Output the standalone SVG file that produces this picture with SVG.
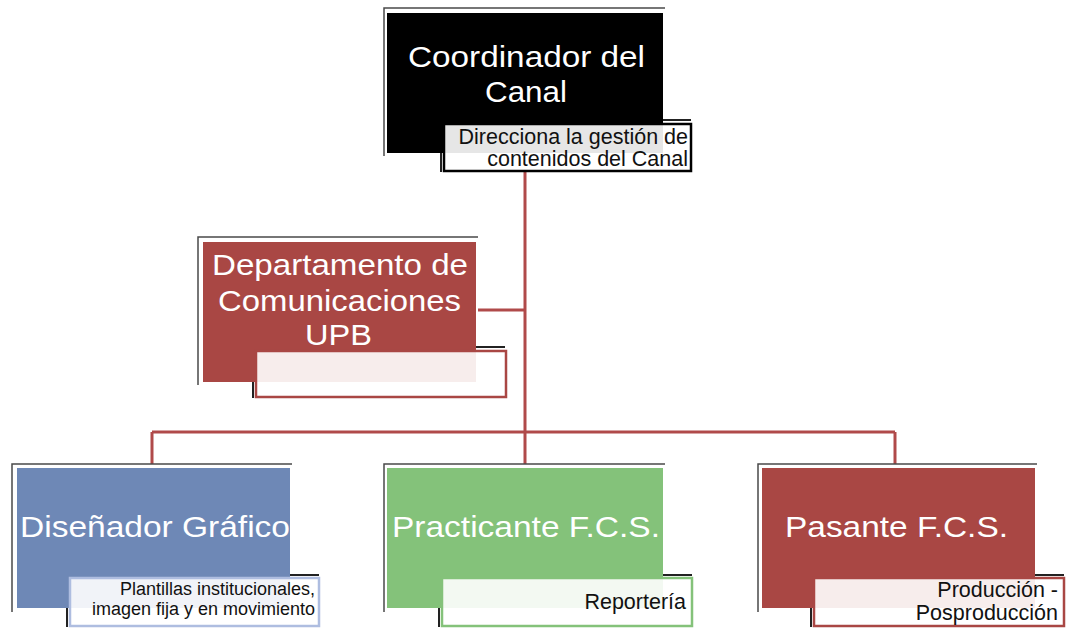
<svg xmlns="http://www.w3.org/2000/svg" width="1068" height="628" viewBox="0 0 1068 628">
<style>
.frame{fill:none;stroke:#4a4a4a;stroke-width:1.5}
.main{font-family:"Liberation Sans",Arial,sans-serif;font-size:30px;fill:#fff;text-anchor:middle}
.sub{font-family:"Liberation Sans",Arial,sans-serif;font-size:21.5px;fill:#111;text-anchor:end}
.sub2{font-family:"Liberation Sans",Arial,sans-serif;font-size:18px;fill:#111;text-anchor:end}
.shadow{fill:none;stroke:#222;stroke-width:2}
.conn{fill:none;stroke:#b04a4a;stroke-width:3}
</style>
<rect width="1068" height="628" fill="#fff"/>
<g id="connectors">
<path class="conn" d="M525 172 V464"/>
<path class="conn" d="M478 310 H525"/>
<path class="conn" d="M152 432 H895"/>
<path class="conn" d="M152 432 V464"/>
<path class="conn" d="M895 432 V464"/>
</g>
<g id="coordinador">
<path class="frame" d="M384 156 V8 H665"/>
<path class="shadow" d="M441 172 V120 H691"/>
<rect x="387" y="13" width="276" height="140" fill="#000"/>
<text class="main" x="526.5" y="67" textLength="237" lengthAdjust="spacingAndGlyphs">Coordinador del</text>
<text class="main" x="526" y="102" textLength="82" lengthAdjust="spacingAndGlyphs">Canal</text>
<rect x="444" y="124" width="247" height="47" fill="#fff" fill-opacity="0.9" stroke="#000" stroke-width="2.5"/>
<text class="sub" x="688" y="144">Direcciona la gestión de</text>
<text class="sub" x="688" y="166">contenidos del Canal</text>
</g>
<g id="departamento">
<path class="frame" d="M198 385 V237 H478"/>
<path class="shadow" d="M253 398 V347 H505"/>
<rect x="203" y="242" width="273" height="140" fill="#a94744"/>
<text class="main" x="340" y="275" textLength="256" lengthAdjust="spacingAndGlyphs">Departamento de</text>
<text class="main" x="339.5" y="311" textLength="243" lengthAdjust="spacingAndGlyphs">Comunicaciones</text>
<text class="main" x="338.5" y="345" textLength="67" lengthAdjust="spacingAndGlyphs">UPB</text>
<rect x="256" y="351" width="250" height="46" fill="#fff" fill-opacity="0.9" stroke="#a94744" stroke-width="2.5"/>
</g>
<g id="disenador">
<path class="frame" d="M12 612 V464 H292"/>
<path class="shadow" d="M67 627 V575 H319"/>
<rect x="17" y="468" width="273" height="140" fill="#6e88b6"/>
<text class="main" x="155" y="537" textLength="270" lengthAdjust="spacingAndGlyphs">Diseñador Gráfico</text>
<rect x="70" y="578" width="249" height="48" fill="#fff" fill-opacity="0.9" stroke="#aebde0" stroke-width="2.5"/>
<text class="sub2" x="315" y="595">Plantillas institucionales,</text>
<text class="sub2" x="315" y="615">imagen fija y en movimiento</text>
</g>
<g id="practicante">
<path class="frame" d="M384 612 V464 H665"/>
<path class="shadow" d="M439 627 V575 H692"/>
<rect x="387" y="468" width="276" height="140" fill="#84c27a"/>
<text class="main" x="526" y="537" textLength="268" lengthAdjust="spacingAndGlyphs">Practicante F.C.S.</text>
<rect x="442" y="578" width="250" height="48" fill="#fff" fill-opacity="0.9" stroke="#84c27a" stroke-width="2.5"/>
<text class="sub" x="686" y="609">Reportería</text>
</g>
<g id="pasante">
<path class="frame" d="M758 612 V464 H1037"/>
<path class="shadow" d="M811 627 V575 H1064"/>
<rect x="762" y="468" width="273" height="140" fill="#a94744"/>
<text class="main" x="896.5" y="537" textLength="223" lengthAdjust="spacingAndGlyphs">Pasante F.C.S.</text>
<rect x="814" y="578" width="250" height="48" fill="#fff" fill-opacity="0.9" stroke="#a94744" stroke-width="2.5"/>
<text class="sub" x="1058" y="597">Producción -</text>
<text class="sub" x="1058" y="620">Posproducción</text>
</g>
</svg>
